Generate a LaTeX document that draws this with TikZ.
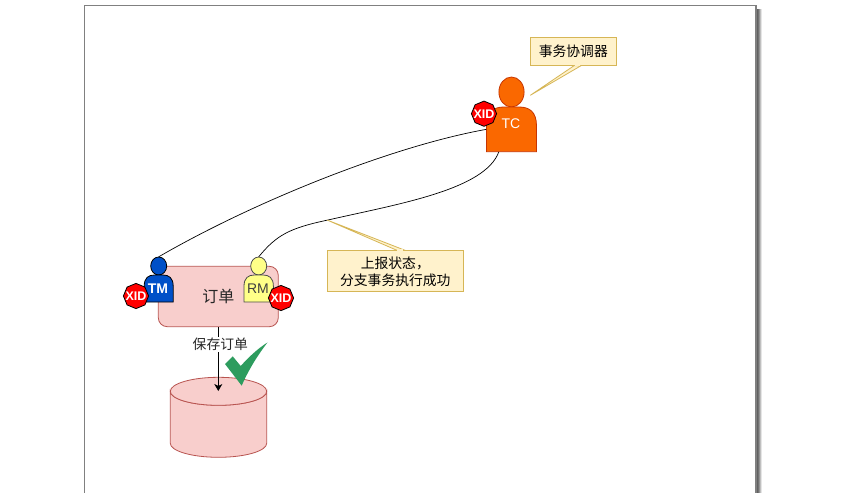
\documentclass[tikz,border=0pt]{standalone}
\usepackage{fontspec}
\setmainfont{Liberation Sans}
\newfontfamily\cjk{Noto Sans CJK SC}
\usetikzlibrary{shapes.geometric,arrows.meta}
\definecolor{orgfill}{HTML}{FA6800}
\definecolor{orgline}{HTML}{C73500}
\definecolor{bluefill}{HTML}{0050C8}
\definecolor{yelfill}{HTML}{FFFF88}
\definecolor{pinkfill}{HTML}{F8CECC}
\definecolor{pinkline}{HTML}{B85450}
\definecolor{notefill}{HTML}{FFF2CC}
\definecolor{noteline}{HTML}{D6B656}
\definecolor{checkgreen}{HTML}{2D9C5E}
\tikzset{
  xidbadge/.style={regular polygon,regular polygon sides=8,shape border rotate=22.5,
    minimum size=25.2pt,inner sep=-6pt,draw=black,line width=0.8pt,fill=red,
    text=white,font=\bfseries\fontsize{12.5}{13}\selectfont},
  notebox/.style={draw=noteline,fill=notefill,line width=0.8pt,inner sep=0pt,align=center,
    font=\cjk\fontsize{13.8}{17}\selectfont},
  notetail/.style={draw=noteline,fill=notefill,line width=0.8pt,line join=miter},
  pinkshape/.style={draw=pinkline,fill=pinkfill,line width=0.8pt},
  flow/.style={draw=black,line width=0.7pt},
  persontext/.style={inner sep=0pt,font=\fontsize{14}{15}\selectfont}
}
\newcommand{\personshape}[8]{%
  % #1 name, #2 cx, #3 head top, #4 head rx, #5 head ry, #6 half width, #7 body height, #8 style
  \path[#8] (#2,#3+#5) ellipse[x radius=#4,y radius=#5];
  \path[#8] (#2-#6,#3+2*#5+#7) -- (#2-#6,#3+2*#5+#7*0.42)
     .. controls (#2-#6,#3+2*#5+#7*0.1) and (#2-#6*0.7,#3+2*#5) .. (#2-#6*0.3,#3+2*#5)
     -- (#2+#6*0.3,#3+2*#5)
     .. controls (#2+#6*0.7,#3+2*#5) and (#2+#6,#3+2*#5+#7*0.1) .. (#2+#6,#3+2*#5+#7*0.42)
     -- (#2+#6,#3+2*#5+#7) -- cycle;
  \node[minimum width=2*#6 pt,minimum height=#7 pt,inner sep=0pt] (#1body) at (#2,#3+2*#5+#7/2) {};
  \node[minimum width=2*#4 pt,minimum height=2*#5 pt,inner sep=0pt,ellipse] (#1head) at (#2,#3+#5) {};
}
\begin{document}
\begin{tikzpicture}[x=1pt,y=-1pt]
\useasboundingbox (0,0) rectangle (855,493);
\clip (0,0) rectangle (855,493);
\fill[white] (0,0) rectangle (855,493);
% page with shadow
\foreach \o/\g in {5.5/10,4.5/25,3.5/42,2.5/55,1.5/62}{
  \fill[black!\g] (756,9) rectangle (756+\o,500);
}
\fill[white] (84.5,5.5) rectangle (756,500);
\draw[black!50,line width=1.2pt] (84.5,500) -- (84.5,5.5) -- (756,5.5) -- (756,500);
% order box
\node[pinkshape,rounded corners=9pt,minimum width=120pt,minimum height=60.4pt,inner sep=0pt,
  font=\cjk\fontsize{16}{18}\selectfont,text=black!85,xshift=0pt] (order) at (218.3,296.5) {订单};
% database
\path[pinkshape] (170.3,391.3) -- (170.3,443.3)
   arc[start angle=180,end angle=360,x radius=48.2,y radius=-14] -- (266.7,391.3)
   arc[start angle=0,end angle=-180,x radius=48.2,y radius=-14] -- cycle;
\path[pinkshape] (218.5,391.3) ellipse[x radius=48.2,y radius=14];
\node[minimum width=96.4pt,minimum height=28pt,inner sep=0pt,ellipse] (dbtop) at (218.5,391.3) {};
% arrow
\coordinate (dbin) at (218.3,391);
\draw[flow,-{Stealth[length=7pt,width=8pt,inset=2pt]}] (order.south) -- (dbin)
  node[pos=0.27,xshift=2pt,fill=white,inner sep=1pt,font=\cjk\fontsize{13.8}{15}\selectfont,text=black!85] (savelabel) {保存订单};
% check mark
\fill[checkgreen] (225,364) -- (232.7,356.3) -- (240.7,366)
  .. controls (248,358) and (257,349) .. (267.5,342.5)
  .. controls (257,356) and (248,371) .. (241.7,385.7) -- cycle;
% people
\personshape{tc}{511.5}{77}{12.6}{15}{25}{44.7}{draw=orgline,fill=orgfill,line width=0.8pt}
\personshape{tm}{158.7}{257}{8}{9}{14.5}{27}{draw=black,fill=bluefill,line width=0.8pt}
\personshape{rm}{258.7}{257}{8}{9}{14.7}{27}{draw=black!70,fill=yelfill,line width=0.8pt}
\node[persontext,text=white] (tclabel) at (511,123.3) {TC};
\node[persontext,text=white,font=\bfseries\fontsize{14}{15}\selectfont] (tmlabel) at (158,289) {TM};
\node[persontext,text=black!75] (rmlabel) at (258,289) {RM};
% badges
\node[xidbadge] (xidtc) at (484,113.7) {XID};
\node[xidbadge] (xidtm) at (136,296) {XID};
\node[xidbadge] (xidrm) at (281,298) {XID};
% connectors
\draw[flow] (tcbody.west) .. controls +(-95,17) and +(95,-55) .. (tmhead.north);
\coordinate (tcfoot) at ([xshift=12.5pt]tcbody.south west);
\coordinate (mid) at (328,220);
\draw[flow] (tcfoot)
  .. controls +(-14,38) and +(70,-16) .. (mid)
  .. controls +(-38,8) and +(18,-22) .. (rmhead.north);
% notes
\node[notebox,minimum width=86pt,minimum height=28pt] (notetc) at (573.3,51.3) {事务协调器};
\coordinate (tiptc) at (530.3,95.3);
\path[notetail] ([xshift=0.7pt]notetc.south) -- (tiptc) -- ([xshift=7.7pt]notetc.south) -- cycle;
\draw[notefill,line width=1.2pt] ([xshift=1.5pt]notetc.south) -- ([xshift=7pt]notetc.south);
\node[notebox,minimum width=136pt,minimum height=41pt,text depth=0pt] (notestate) at (395.3,270.8) {\raisebox{-1pt}{上报状态，}\\\raisebox{-1pt}{分支事务执行成功}};
\coordinate (tipstate) at (327,220);
\path[notetail] ([xshift=0.7pt]notestate.north) -- (tipstate) -- ([xshift=8.7pt]notestate.north) -- cycle;
\draw[notefill,line width=1.2pt] ([xshift=1.5pt]notestate.north) -- ([xshift=8pt]notestate.north);
\end{tikzpicture}
\end{document}
